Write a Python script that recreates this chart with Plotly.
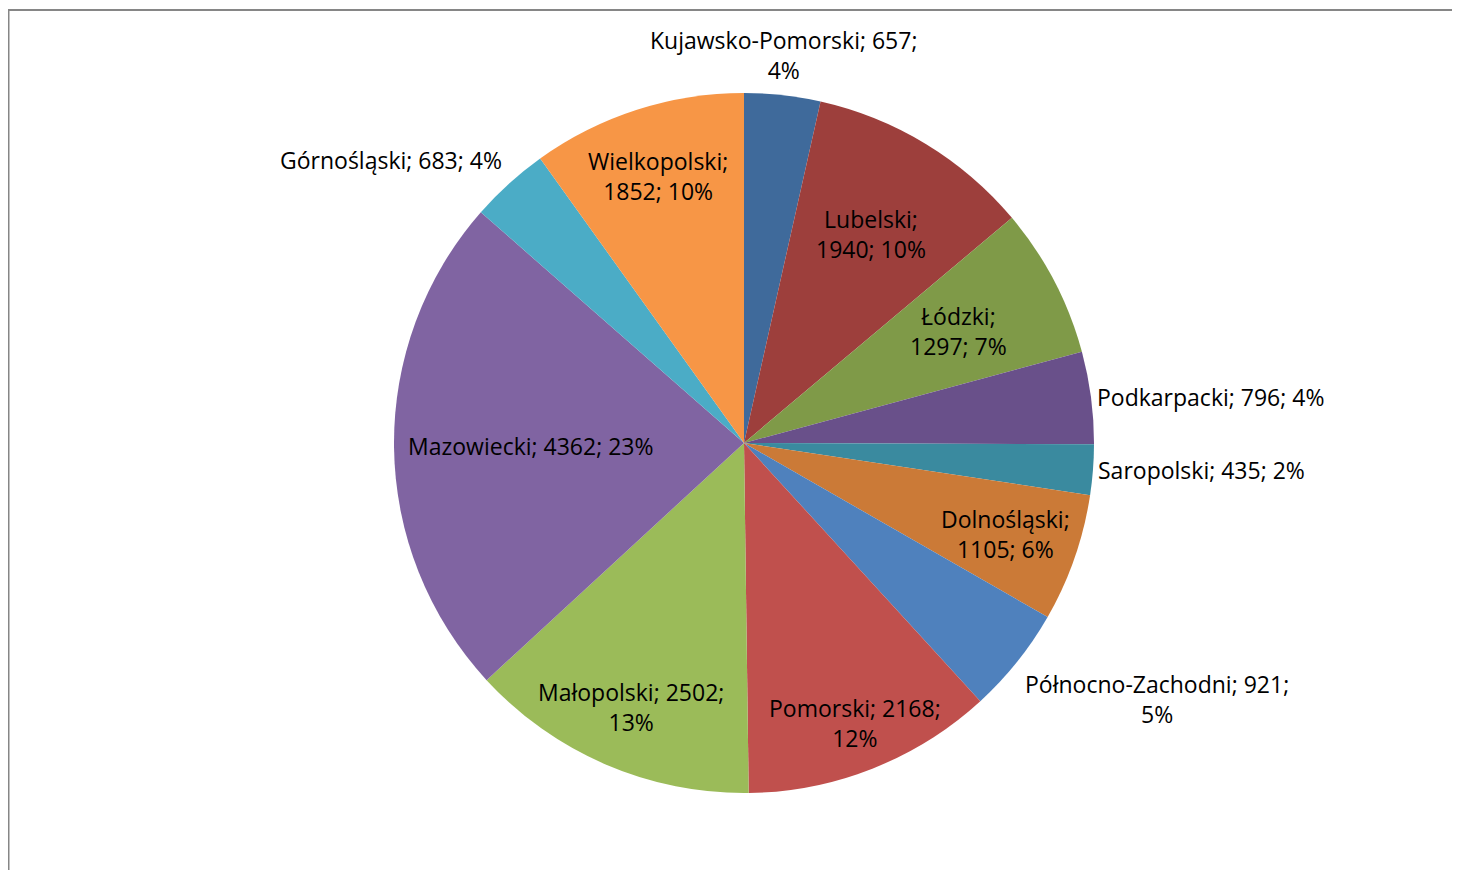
import math
import plotly.graph_objects as go

# ---- data ----
regions = ["Kujawsko-Pomorski", "Lubelski", "Łódzki", "Podkarpacki", "Saropolski",
           "Dolnośląski", "Północno-Zachodni", "Pomorski", "Małopolski",
           "Mazowiecki", "Górnośląski", "Wielkopolski"]
values = [657, 1940, 1297, 796, 435, 1105, 921, 2168, 2502, 4362, 683, 1852]
percents = ["4%", "10%", "7%", "4%", "2%", "6%", "5%", "12%", "13%", "23%", "4%", "10%"]
colors = ["#3F6A9B", "#9D3F3C", "#7F9A48", "#69508A", "#3A8A9F", "#CB7A37",
          "#4F81BD", "#C0504D", "#9BBB59", "#8064A2", "#4BACC6", "#F79646"]

# label texts (line breaks as in the reference)
label_texts = [
    "Kujawsko-Pomorski; 657;<br>4%",
    "Lubelski;<br>1940; 10%",
    "Łódzki;<br>1297; 7%",
    "Podkarpacki; 796; 4%",
    "Saropolski; 435; 2%",
    "Dolnośląski;<br>1105; 6%",
    "Północno-Zachodni; 921;<br>5%",
    "Pomorski; 2168;<br>12%",
    "Małopolski; 2502;<br>13%",
    "Mazowiecki; 4362; 23%",
    "Górnośląski; 683; 4%",
    "Wielkopolski;<br>1852; 10%",
]
# label placement: radial factor (fraction of radius); outside labels use >1
label_radius = [1.02, 0.70, 0.69, 1.01, 1.01, 0.79, 1.02, 0.86, 0.82, 0.61, 1.02, 0.80]

# ---- layout geometry (figure pixels; page adds an 8px body margin) ----
W, H = 1452, 862
CX, CY, R = 736, 435, 350
FONT = dict(family="Open Sans, Lato, sans-serif", size=23, color="#000000")

fig = go.Figure(go.Pie(
    labels=regions, values=values, sort=False, direction="clockwise", rotation=0,
    marker=dict(colors=colors, line=dict(width=0)),
    textinfo="none", hoverinfo="label+value+percent",
    domain=dict(x=[(CX - R) / W, (CX + R) / W], y=[(H - CY - R) / H, (H - CY + R) / H]),
    showlegend=False,
))

total = sum(values)
cum = 0
annotations = []
for name, v, txt, rf in zip(regions, values, label_texts, label_radius):
    mid = (cum + v / 2) / total * 2 * math.pi
    cum += v
    s, c = math.sin(mid), math.cos(mid)
    px = CX + rf * R * s
    py = CY - rf * R * c
    if rf > 1:
        xa = "left" if s > 0.3 else ("right" if s < -0.3 else "center")
        ya = "bottom" if c > 0.3 else ("top" if c < -0.3 else "middle")
    else:
        xa, ya = "center", "middle"
    annotations.append(dict(
        x=px / W, y=1 - py / H, xref="paper", yref="paper", text=txt,
        showarrow=False, xanchor=xa, yanchor=ya, align="center", font=FONT,
    ))

fig.update_layout(
    width=W, height=H, margin=dict(l=0, r=0, t=0, b=0),
    paper_bgcolor="white", plot_bgcolor="white",
    annotations=annotations,
    shapes=[
        dict(type="line", xref="paper", yref="paper", x0=0, x1=1, y0=1 - 2 / H, y1=1 - 2 / H,
             line=dict(color="#868686", width=2)),
        dict(type="line", xref="paper", yref="paper", x0=0.5 / W, x1=0.5 / W, y0=0, y1=1 - 2 / H,
             line=dict(color="#868686", width=2)),
    ],
)

fig.write_html("out.html")
